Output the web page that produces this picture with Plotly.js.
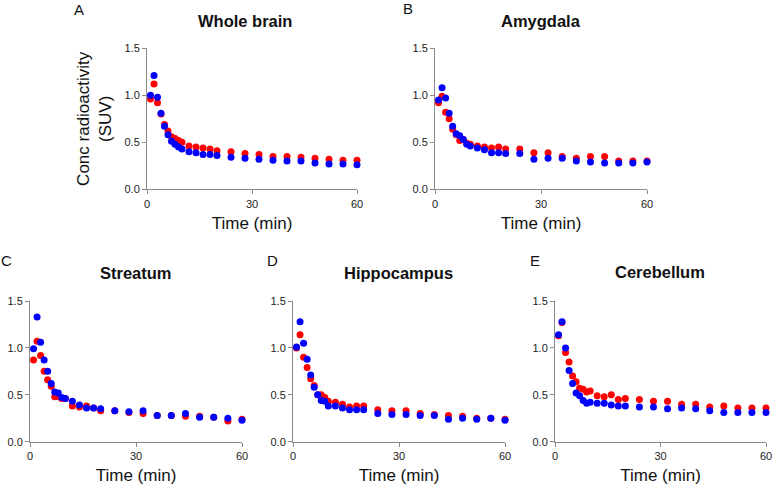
<!DOCTYPE html>
<html>
<head>
<meta charset="utf-8">
<script src="https://cdn.plot.ly/plotly-3.0.1.min.js"></script>
<style>html,body{margin:0;padding:0;background:#fff;}#chart{width:775px;height:488px;}</style>
</head>
<body>
<div id="chart"></div>
<script>
// Time points (min)
const time = [1,2,3,4,5,6,7,8,9,10,12,14,16,18,20,24,28,32,36,40,44,48,52,56,60];

const panelLetters = ["A","B","C","D","E"];
const panelTitles = ["Whole brain","Amygdala","Streatum","Hippocampus","Cerebellum"];
const xTicks = [0,30,60];
const yTicks = [0,0.5,1.0,1.5];
const yTickLabels = ["0.0","0.5","1.0","1.5"];

// SUV values, red series
const wholeBrainRed = [0.96,1.12,0.92,0.80,0.69,0.62,0.56,0.54,0.52,0.50,0.46,0.45,0.44,0.43,0.41,0.40,0.38,0.37,0.35,0.35,0.34,0.33,0.32,0.31,0.31];
const amygdalaRed   = [0.92,0.99,0.82,0.75,0.64,0.58,0.52,0.53,0.49,0.48,0.46,0.45,0.44,0.45,0.43,0.43,0.39,0.39,0.35,0.33,0.35,0.35,0.30,0.30,0.30];
const streatumRed   = [0.87,1.07,0.92,0.75,0.66,0.59,0.48,0.48,0.46,0.46,0.38,0.37,0.38,0.36,0.33,0.33,0.31,0.30,0.28,0.28,0.27,0.27,0.26,0.22,0.24];
const hippocampusRed= [1.00,1.14,0.90,0.79,0.67,0.60,0.50,0.50,0.47,0.43,0.42,0.40,0.37,0.38,0.38,0.34,0.33,0.33,0.30,0.29,0.28,0.27,0.25,0.25,0.24];
const cerebellumRed = [1.13,1.27,0.95,0.85,0.70,0.64,0.57,0.56,0.53,0.54,0.49,0.48,0.50,0.45,0.46,0.45,0.43,0.43,0.40,0.40,0.37,0.38,0.36,0.36,0.36];

// SUV values, blue series
const wholeBrainBlue = [1.00,1.21,0.98,0.81,0.67,0.58,0.51,0.48,0.45,0.43,0.40,0.39,0.37,0.37,0.36,0.34,0.33,0.32,0.31,0.30,0.30,0.28,0.27,0.27,0.26];
const amygdalaBlue   = [0.95,1.08,0.97,0.81,0.67,0.59,0.57,0.53,0.48,0.46,0.44,0.42,0.39,0.39,0.38,0.38,0.32,0.33,0.33,0.30,0.29,0.28,0.28,0.28,0.29];
const streatumBlue   = [0.99,1.33,1.06,0.87,0.75,0.62,0.53,0.52,0.47,0.46,0.43,0.39,0.36,0.36,0.35,0.33,0.32,0.33,0.28,0.28,0.30,0.26,0.26,0.25,0.23];
const hippocampusBlue= [1.01,1.28,1.05,0.88,0.71,0.58,0.50,0.44,0.43,0.38,0.38,0.36,0.34,0.34,0.34,0.30,0.29,0.29,0.28,0.28,0.24,0.25,0.24,0.25,0.23];
const cerebellumBlue = [1.14,1.28,1.00,0.76,0.62,0.52,0.49,0.44,0.41,0.42,0.41,0.41,0.39,0.38,0.38,0.37,0.37,0.35,0.36,0.35,0.33,0.31,0.31,0.31,0.31];

const redSeries = [wholeBrainRed, amygdalaRed, streatumRed, hippocampusRed, cerebellumRed];
const blueSeries = [wholeBrainBlue, amygdalaBlue, streatumBlue, hippocampusBlue, cerebellumBlue];

// Layout geometry (pixels) for each panel: [left, right, top, bottom]
const W = 775, H = 488;
const boxes = [
  [147, 357, 48.3, 189.3],
  [435, 647, 48.3, 189.3],
  [30, 242, 301, 441.7],
  [293, 505, 301, 441.7],
  [555, 766, 301, 441.7]
];
const titlePos = [[244.5,21],[541,21],[136,273],[398,273],[660,272]];
const letterPos = [[78.7,10],[407.7,9],[6.7,260],[272,260],[534.5,260]];

const RED = "#ff0000", BLUE = "#0000ff";
const FONT = "Liberation Sans, Arial, sans-serif";

const data = [];
const layout = {
  width: W, height: H,
  margin: {l:0, r:0, t:0, b:0},
  paper_bgcolor: "#fff", plot_bgcolor: "rgba(0,0,0,0)",
  showlegend: false,
  font: {family: FONT, color: "#222"},
  annotations: []
};

for (let i = 0; i < 5; i++) {
  const n = i === 0 ? "" : String(i + 1);
  const xa = "x" + n, ya = "y" + n;
  data.push({x: time, y: redSeries[i], xaxis: xa, yaxis: ya, type: "scatter", mode: "markers",
    marker: {color: RED, size: 7}, cliponaxis: false, hoverinfo: "skip"});
  data.push({x: time, y: blueSeries[i], xaxis: xa, yaxis: ya, type: "scatter", mode: "markers",
    marker: {color: BLUE, size: 7}, cliponaxis: false, hoverinfo: "skip"});
  const b = boxes[i];
  const common = {showgrid: false, zeroline: false, showline: true, linecolor: "#8a8a8a", linewidth: 1,
    ticks: "outside", ticklen: 4, tickwidth: 1, tickcolor: "#8a8a8a",
    tickfont: {family: FONT, size: 11, color: "#222"}, fixedrange: true};
  layout["xaxis" + n] = Object.assign({}, common, {
    domain: [b[0]/W, b[1]/W], anchor: ya, range: [0, 60],
    tickmode: "array", tickvals: xTicks, ticktext: xTicks.map(String),
    title: {text: "Time (min)", font: {family: FONT, size: 17, color: "#111"}, standoff: 8}
  });
  layout["yaxis" + n] = Object.assign({}, common, {
    domain: [1 - b[3]/H, 1 - b[2]/H], anchor: xa, range: [0, 1.5],
    tickmode: "array", tickvals: yTicks, ticktext: yTickLabels,
    title: i === 0 ? {text: "Conc radioactivity<br>(SUV)", font: {family: FONT, size: 17, color: "#111"}, standoff: 8} : {text: ""}
  });
  layout.annotations.push({xref: "paper", yref: "paper", x: titlePos[i][0]/W, y: 1 - titlePos[i][1]/H,
    xanchor: "center", yanchor: "middle", showarrow: false, text: "<b>" + panelTitles[i] + "</b>",
    font: {family: FONT, size: 16.5, color: "#111"}});
  layout.annotations.push({xref: "paper", yref: "paper", x: letterPos[i][0]/W, y: 1 - letterPos[i][1]/H,
    xanchor: "center", yanchor: "middle", showarrow: false, text: panelLetters[i],
    font: {family: FONT, size: 15, color: "#111"}});
}

Plotly.newPlot("chart", data, layout, {displayModeBar: false, staticPlot: true});
</script>
</body>
</html>
